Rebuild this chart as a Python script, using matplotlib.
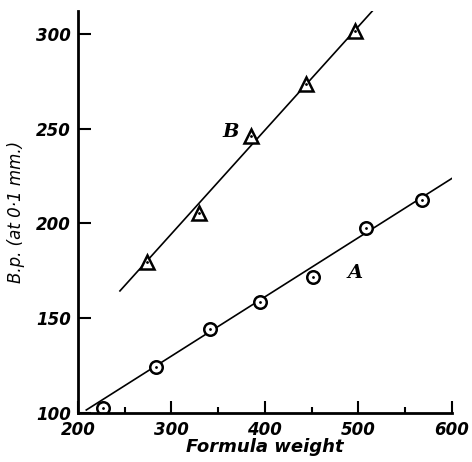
import matplotlib.pyplot as plt

# series A (circles)
a_x = [227, 284, 341, 395, 452, 508, 568]
a_y = [102.6, 124.3, 144.3, 158.6, 171.8, 197.6, 212.4]
# series B (triangles)
b_x = [274, 330, 385, 444, 497]
b_y = [179.7, 205.5, 246, 273.6, 301.6]

# fitted lines drawn in the figure (end points)
a_line_x = [209, 601]
a_line_y = [101.6, 224]
b_line_x = [245, 515]
b_line_y = [164.4, 312]

x_ticks = [200, 300, 400, 500, 600]
y_ticks = [100, 150, 200, 250, 300]

fig = plt.figure(figsize=(4.72, 4.62), dpi=100)
ax = fig.add_axes([0.165, 0.106, 0.792, 0.870])

ax.plot(a_line_x, a_line_y, color="black", lw=1.2, zorder=1)
ax.plot(b_line_x, b_line_y, color="black", lw=1.2, zorder=1)

ax.plot(a_x, a_y, "o", ms=9, mfc="white", mec="black", mew=1.8, zorder=2)
ax.plot(a_x, a_y, ".", ms=2, color="black", zorder=3)
ax.plot(b_x, b_y, "^", ms=10, mfc="white", mec="black", mew=1.8, zorder=2)
ax.plot(b_x, b_y, ".", ms=2, color="black", zorder=3)

ax.text(363, 248, "B", fontsize=14, style="italic", weight="bold",
        family="DejaVu Serif", ha="center", va="center")
ax.text(497, 174, "A", fontsize=14, style="italic", weight="bold",
        family="DejaVu Serif", ha="center", va="center")

ax.set_xlim(200, 600)
ax.set_ylim(100, 312)
ax.set_xticks(x_ticks)
ax.set_yticks(y_ticks)
ax.set_xticks([250, 350, 450, 550], minor=True)

for s in ["top", "right"]:
    ax.spines[s].set_visible(False)
for s in ["left", "bottom"]:
    ax.spines[s].set_linewidth(2)

ax.tick_params(direction="in", length=9, width=1.5, labelsize=12)
ax.tick_params(axis="x", pad=6)
ax.tick_params(axis="y", pad=5)
ax.tick_params(which="minor", direction="in", length=4, width=1.5)
for lab in ax.get_xticklabels() + ax.get_yticklabels():
    lab.set_fontstyle("italic")
    lab.set_fontweight("bold")

ax.set_xlabel("Formula weight", fontsize=13, style="italic", weight="bold", labelpad=-1)
ax.set_ylabel("B.p. (at 0·1 mm.)", fontsize=12, style="italic", labelpad=8)

fig.savefig("out.png", dpi=100)
